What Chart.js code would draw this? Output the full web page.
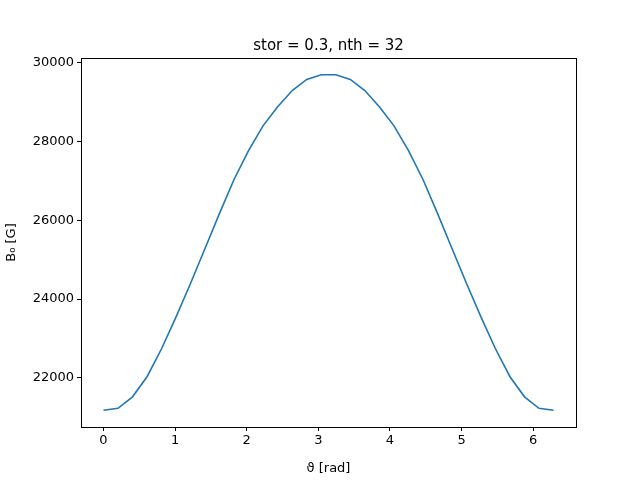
<!DOCTYPE html>
<html><head><script src="https://cdn.jsdelivr.net/npm/chart.js"></script></head>
<body style="margin:0;background:#fff">
<canvas id="c" width="640" height="480"></canvas>
<script>
const halfValues = [21180,21230,21520,22030,22740,23550,24400,25290,26180,27040,27770,28400,28880,29290,29570,29690];
const bValues = halfValues.concat(halfValues.slice().reverse());
const thetaValues = bValues.map((_, k) => k * 2 * Math.PI / 31);
const xTicks = [0,1,2,3,4,5,6];
const yTicks = [22000,24000,26000,28000,30000];
const titleText = 'stor = 0.3, nth = 32';
const font = {family:'DejaVu Sans', size:13};
const boxPlugin = {id:'box', afterDraw(ch){const a=ch.chartArea,c=ch.ctx;c.save();c.strokeStyle='#000';c.lineWidth=1;c.strokeRect(a.left+0.5,a.top+0.5,a.right-a.left,a.bottom-a.top);
c.fillStyle='#000';c.font='15px DejaVu Sans';c.textAlign='center';c.textBaseline='alphabetic';c.fillText(titleText,(a.left+a.right)/2,50);c.restore();}};
new Chart(document.getElementById('c'),{
type:'line',
data:{datasets:[{data:thetaValues.map((t,i)=>({x:t,y:bValues[i]})),borderColor:'#1f77b4',borderWidth:1.6,pointRadius:0,tension:0}]},
options:{responsive:false,animation:false,layout:{padding:{top:58,right:64,left:0,bottom:0}},
plugins:{legend:{display:false},tooltip:{enabled:false}},
scales:{
x:{type:'linear',min:-0.314,max:6.597,afterFit:s=>{s.height=53;},
 afterBuildTicks:s=>{s.ticks=xTicks.map(v=>({value:v}));},
 grid:{drawOnChartArea:false,tickLength:4,color:'#000'},border:{color:'#000'},
 ticks:{color:'#000',font,padding:2},title:{display:true,text:'ϑ [rad]',color:'#000',font,padding:{top:-3}}},
y:{min:20755,max:30115,afterFit:s=>{s.width=81;},
 afterBuildTicks:s=>{s.ticks=yTicks.map(v=>({value:v}));},
 grid:{drawOnChartArea:false,tickLength:4,color:'#000'},border:{color:'#000'},
 ticks:{color:'#000',font,padding:3,callback:v=>String(v)},title:{display:true,text:'B₀ [G]',color:'#000',font,padding:{bottom:2}}}
}},plugins:[boxPlugin]});
</script></body></html>
